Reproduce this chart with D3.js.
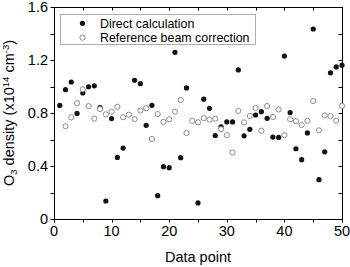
<!DOCTYPE html>
<html>
<head>
<meta charset="utf-8">
<script src="https://cdn.jsdelivr.net/npm/d3@7/dist/d3.min.js"></script>
<style>
  body { margin: 0; background: #fff; }
  svg { display: block; font-family: "Liberation Sans", Arial, sans-serif; }
</style>
</head>
<body>
<div id="chart"></div>
<script>
// data point index 1..50
var pointIndex = d3.range(1, 51);

// Direct calculation (null = not visible in the figure)
var directValues = [0.857, 0.976, 1.034, 0.797, 0.951, 0.998, 1.005, 0.84, 0.136, 0.758,
  0.465, 0.535, null, 1.047, 1.021, 0.707, 0.858, 0.176, 0.395, 0.387,
  1.258, 0.463, 0.989, null, 0.121, 0.904, 0.835, 0.630, 0.695, 0.733,
  0.733, 1.125, 0.628, 0.677, 0.785, 0.810, 0.760, 0.618, 0.616, 1.230,
  0.803, 0.530, 0.448, 0.650, 1.434, 0.297, 0.507, 1.103, 1.148, 1.161];

// Reference beam correction
var referenceValues = [null, 0.700, 0.767, 0.874, 0.979, 0.852, 0.758, 0.830, 0.790, 0.810,
  0.847, 0.768, 0.787, 0.754, 0.818, 0.836, 0.604, 0.792, 0.733, 0.753,
  0.810, 0.898, 0.649, 0.741, 0.730, 0.761, 0.750, 0.757, 0.678, 0.633,
  0.502, 0.816, 0.729, 0.778, 0.838, 0.667, 0.853, 0.770, 0.827, 0.633,
  0.752, 0.738, 0.710, 0.741, 0.890, 0.669, 0.781, 0.777, 0.742, 0.854];

var xTicks = [0, 10, 20, 30, 40, 50];
var xMinor = d3.range(0, 51, 5);
var yTicks = [0, 0.4, 0.8, 1.2, 1.6];
var yMinor = d3.range(0, 1.61, 0.2);

var seriesNames = ["Direct calculation", "Reference beam correction"];

var width = 350, height = 267;
var margin = {left: 54, right: 8, top: 7, bottom: 48};

var svg = d3.select("#chart").append("svg")
  .attr("width", width)
  .attr("height", height);

var x = d3.scaleLinear().domain([0, 50]).range([margin.left, width - margin.right]);
var y = d3.scaleLinear().domain([0, 1.6]).range([height - margin.bottom, margin.top]);

var x0 = x(0), x1 = x(50), y0 = y(0), y1 = y(1.6);

// minor ticks
var ticks = svg.append("g").attr("stroke", "#000").attr("stroke-width", 1);
xMinor.forEach(function(v) {
  var px = Math.round(x(v)) + 0.5;
  ticks.append("line").attr("x1", px).attr("x2", px).attr("y1", y0).attr("y2", y0 + 3.5);
  ticks.append("line").attr("x1", px).attr("x2", px).attr("y1", y1).attr("y2", y1 + 3.5);
});
yMinor.forEach(function(v) {
  var py = Math.round(y(v)) + 0.5;
  ticks.append("line").attr("x1", x0).attr("x2", x0 - 3.5).attr("y1", py).attr("y2", py);
  ticks.append("line").attr("x1", x1).attr("x2", x1 - 3.5).attr("y1", py).attr("y2", py);
});

// frame
svg.append("rect")
  .attr("x", Math.round(x0) + 0.5).attr("y", Math.round(y1) + 0.5)
  .attr("width", Math.round(x1) - Math.round(x0)).attr("height", Math.round(y0) - Math.round(y1))
  .attr("fill", "none").attr("stroke", "#000").attr("stroke-width", 1);

// tick labels
svg.append("g").selectAll("text").data(xTicks).enter().append("text")
  .attr("x", function(d) { return x(d); })
  .attr("y", y0 + 17)
  .attr("text-anchor", "middle")
  .style("font-size", "14.5px")
  .text(function(d) { return d; });

svg.append("g").selectAll("text").data(yTicks).enter().append("text")
  .attr("x", x0 - 6)
  .attr("y", function(d) { return y(d) + 5; })
  .attr("text-anchor", "end")
  .style("font-size", "14.5px")
  .text(function(d) { return d === 0 ? "0" : d3.format(".1f")(d); });

// axis titles
svg.append("text")
  .attr("x", (x0 + x1) / 2)
  .attr("y", 262)
  .attr("text-anchor", "middle")
  .style("font-size", "14.5px")
  .text("Data point");

var yt = svg.append("text")
  .attr("transform", "translate(13.5," + ((y0 + y1) / 2) + ") rotate(-90)")
  .attr("text-anchor", "middle")
  .style("font-size", "14.5px");
yt.append("tspan").text("O");
yt.append("tspan").attr("baseline-shift", "-25%").style("font-size", "9.5px").text("3");
yt.append("tspan").text(" density (x10");
yt.append("tspan").attr("baseline-shift", "super").style("font-size", "9.5px").text("14");
yt.append("tspan").text(" cm");
yt.append("tspan").attr("baseline-shift", "super").style("font-size", "9.5px").text("-3");
yt.append("tspan").text(")");

// points
var direct = pointIndex.map(function(d, i) { return {x: d, v: directValues[i]}; })
  .filter(function(d) { return d.v !== null; });
var reference = pointIndex.map(function(d, i) { return {x: d, v: referenceValues[i]}; })
  .filter(function(d) { return d.v !== null; });

svg.append("g").selectAll("circle").data(direct).enter().append("circle")
  .attr("cx", function(d) { return x(d.x); })
  .attr("cy", function(d) { return y(d.v); })
  .attr("r", 2.6)
  .attr("fill", "#111");

svg.append("g").selectAll("circle").data(reference).enter().append("circle")
  .attr("cx", function(d) { return x(d.x); })
  .attr("cy", function(d) { return y(d.v); })
  .attr("r", 2.6)
  .attr("fill", "#fff")
  .attr("stroke", "#808080")
  .attr("stroke-width", 0.9);

// legend
var legend = svg.append("g");
legend.append("rect")
  .attr("x", 60.5).attr("y", 14.5).attr("width", 195).attr("height", 30)
  .attr("fill", "#fff").attr("stroke", "#999").attr("stroke-width", 0.8);
legend.append("circle").attr("cx", 82.5).attr("cy", 23.3).attr("r", 2.6).attr("fill", "#111");
legend.append("circle").attr("cx", 82.5).attr("cy", 37.7).attr("r", 2.6)
  .attr("fill", "#fff").attr("stroke", "#808080").attr("stroke-width", 0.9);
legend.selectAll("text.lab").data(seriesNames).enter().append("text")
  .attr("class", "lab")
  .attr("x", 100)
  .attr("y", function(d, i) { return 27.5 + i * 14.4; })
  .style("font-size", "12.4px")
  .text(function(d) { return d; });
</script>
</body>
</html>
